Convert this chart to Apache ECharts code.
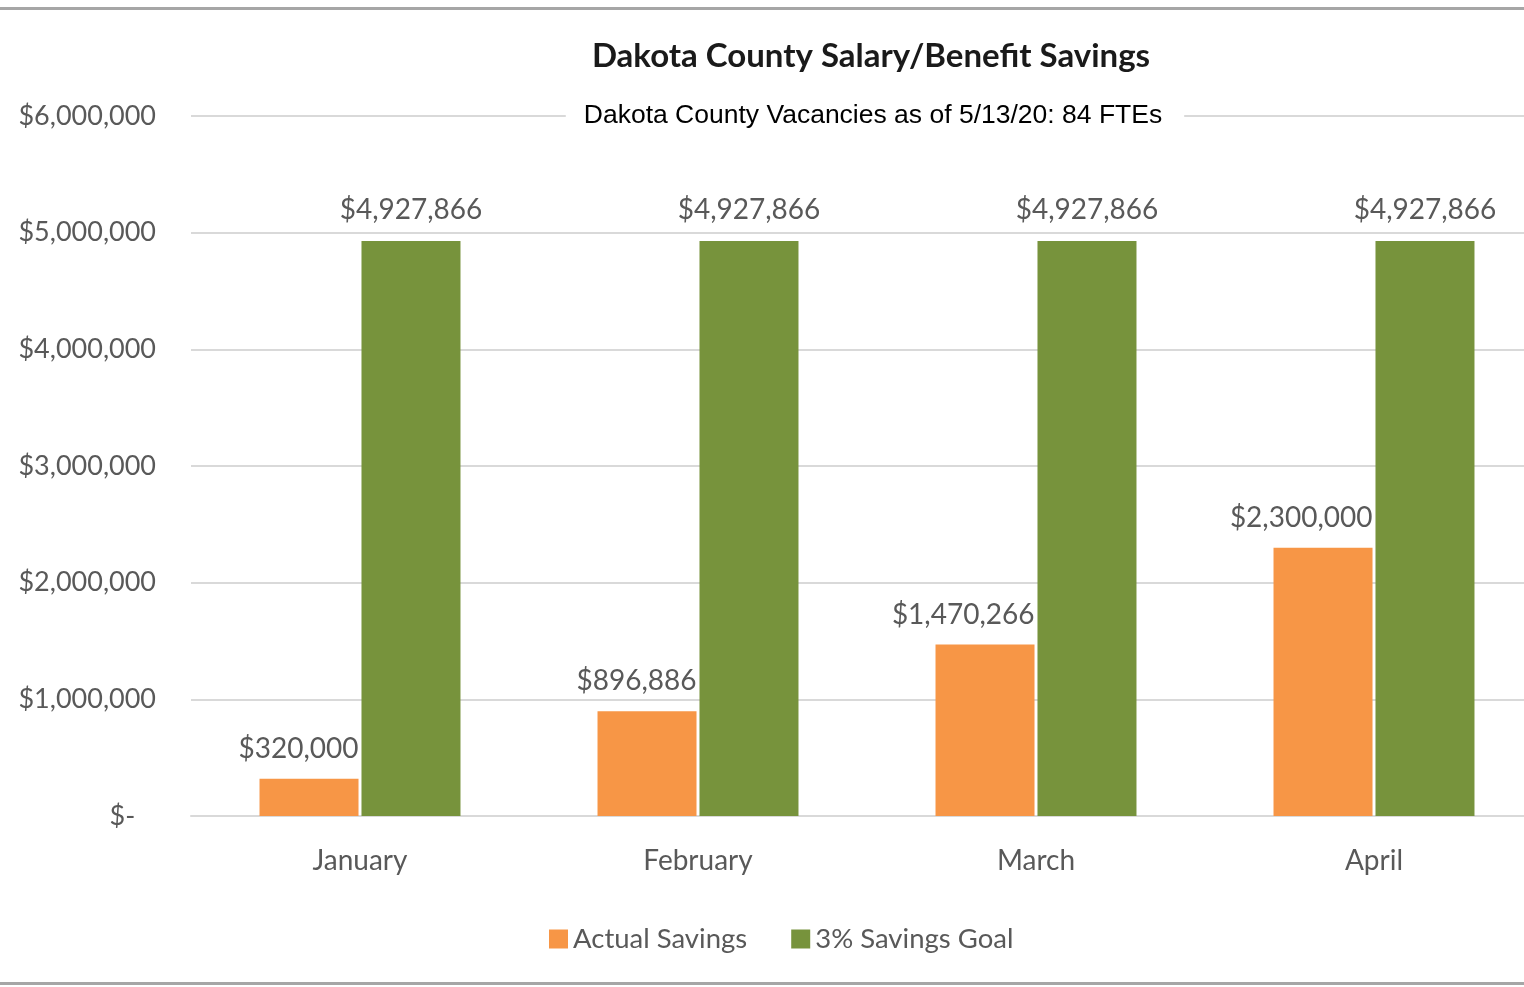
<!DOCTYPE html>
<html>
<head>
<meta charset="utf-8">
<script src="https://cdn.jsdelivr.net/npm/echarts@6/dist/echarts.min.js"></script>
<style>
  html, body { margin: 0; padding: 0; background: #fff; }
  #chart { width: 1524px; height: 987px; }
</style>
</head>
<body>
<div id="chart"></div>
<script>
// data
var months = ["January", "February", "March", "April"];
var actualSavings = [320000, 896886, 1470266, 2300000];
var savingsGoal = [4927866, 4927866, 4927866, 4927866];
var seriesNames = ["Actual Savings", "3% Savings Goal"];

var labelColor = "#595959";
var font = "Lato, 'Open Sans', sans-serif";

function money(v) {
  if (v === 0) return "$-   ";
  return "$" + v.toLocaleString("en-US");
}

var myChart = echarts.init(document.getElementById("chart"));
var option = {
  backgroundColor: "#fff",
  animation: false,
  title: [
    {
      text: "Dakota County Salary/Benefit Savings",
      left: 866, top: 35, textAlign: "center",
      textStyle: { fontFamily: font, fontWeight: "bold", fontSize: 33, color: "#1a1a1a" }
    },
    {
      text: "Dakota County Vacancies as of 5/13/20: 84 FTEs",
      left: 855, top: 98, textAlign: "center",
      backgroundColor: "#fff",
      padding: [4, 22, 4, 18],
      textStyle: { fontFamily: "'Liberation Sans', Arial, sans-serif", fontWeight: "normal", fontSize: 26.5, color: "#000" }
    }
  ],
  legend: {
    data: seriesNames,
    bottom: 29, left: 544,
    itemWidth: 19, itemHeight: 19, itemGap: 44,
    icon: "rect",
    textStyle: { fontFamily: font, fontSize: 27.5, color: labelColor }
  },
  grid: { left: 191, top: 116, width: 1352, height: 700, outerBoundsMode: "none", containLabel: false },
  xAxis: {
    type: "category",
    data: months,
    axisLine: { lineStyle: { color: "#d9d9d9", width: 2 } },
    axisTick: { show: false },
    axisLabel: { margin: 31, fontFamily: font, fontSize: 28, color: labelColor }
  },
  yAxis: {
    type: "value",
    min: 0, max: 6000000, interval: 1000000,
    axisLine: { show: false },
    axisTick: { show: false },
    splitLine: { lineStyle: { color: "#d9d9d9", width: 2 } },
    axisLabel: { margin: 35, fontFamily: font, fontSize: 27, color: labelColor, formatter: money }
  },
  series: [
    {
      name: seriesNames[0], type: "bar", data: actualSavings,
      barWidth: 99, barGap: "3%",
      itemStyle: { color: "#F79646" },
      label: {
        show: true, position: ["100%", -16], align: "right", verticalAlign: "bottom",
        fontFamily: font, fontSize: 28, color: labelColor,
        formatter: function (p) { return money(p.value); }
      }
    },
    {
      name: seriesNames[1], type: "bar", data: savingsGoal,
      barWidth: 99,
      itemStyle: { color: "#77933C" },
      label: { show: true, position: "top", distance: 17, fontFamily: font, fontSize: 28, color: labelColor, formatter: function (p) { return money(p.value); } }
    }
  ],
  graphic: [
    { type: "rect", shape: { x: 0, y: 7, width: 1524, height: 3 }, style: { fill: "#a6a6a6" } },
    { type: "rect", shape: { x: 0, y: 982, width: 1524, height: 3 }, style: { fill: "#a6a6a6" } }
  ]
};
myChart.setOption(option);
window.onresize = myChart.resize;
</script>
</body>
</html>
